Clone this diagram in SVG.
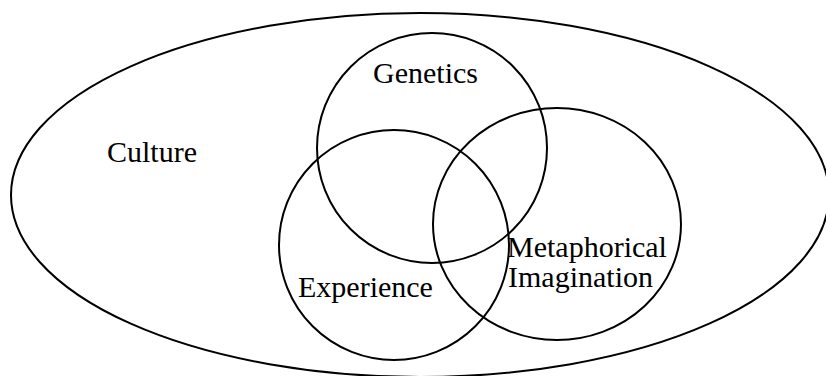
<svg xmlns="http://www.w3.org/2000/svg" width="826" height="376" viewBox="0 0 826 376">
<style>
.s{fill:none;stroke:#000;stroke-width:2}
text{font-family:"Liberation Serif","Times New Roman",serif;font-size:30px;fill:#000}
</style>
<rect width="826" height="376" fill="#fff"/>
<g id="culture"><ellipse class="s" cx="420" cy="195" rx="409" ry="182"/><text x="107" y="162">Culture</text></g>
<g id="genetics"><ellipse class="s" cx="432" cy="148" rx="115" ry="115"/><text x="373" y="83">Genetics</text></g>
<g id="experience"><ellipse class="s" cx="394" cy="245" rx="115" ry="115"/><text x="298" y="297">Experience</text></g>
<g id="metaphorical"><ellipse class="s" cx="557" cy="224" rx="124" ry="116"/><text x="507" y="257">Metaphorical</text><text x="508" y="287">Imagination</text></g>
<g id="connectors"/>
</svg>
